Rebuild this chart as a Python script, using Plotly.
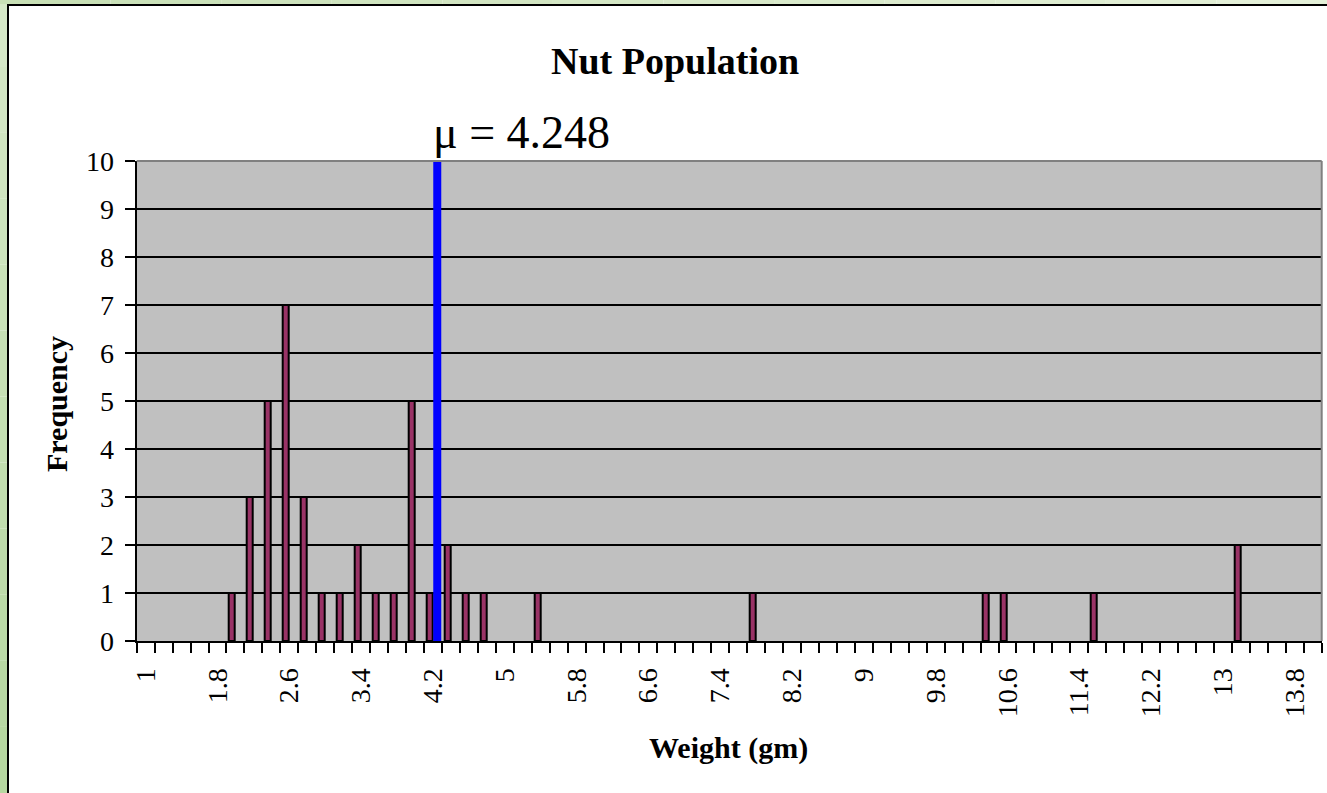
import plotly.graph_objects as go

# ---- data ----
weights = [1.0, 1.2, 1.4, 1.6, 1.8, 2.0, 2.2, 2.4, 2.6, 2.8,
           3.0, 3.2, 3.4, 3.6, 3.8, 4.0, 4.2, 4.4, 4.6, 4.8,
           5.0, 5.2, 5.4, 5.6, 5.8, 6.0, 6.2, 6.4, 6.6, 6.8,
           7.0, 7.2, 7.4, 7.6, 7.8, 8.0, 8.2, 8.4, 8.6, 8.8,
           9.0, 9.2, 9.4, 9.6, 9.8, 10.0, 10.2, 10.4, 10.6, 10.8,
           11.0, 11.2, 11.4, 11.6, 11.8, 12.0, 12.2, 12.4, 12.6, 12.8,
           13.0, 13.2, 13.4, 13.6, 13.8, 14.0]
frequency = [0, 0, 0, 0, 0, 1, 3, 5, 7, 3,
             1, 1, 2, 1, 1, 5, 1, 2, 1, 1,
             0, 0, 1, 0, 0, 0, 0, 0, 0, 0,
             0, 0, 0, 0, 1, 0, 0, 0, 0, 0,
             0, 0, 0, 0, 0, 0, 0, 1, 1, 0,
             0, 0, 0, 1, 0, 0, 0, 0, 0, 0,
             0, 2, 0, 0, 0, 0]
tick_vals = [1.0, 1.8, 2.6, 3.4, 4.2, 5.0, 5.8, 6.6, 7.4, 8.2, 9.0,
             9.8, 10.6, 11.4, 12.2, 13.0, 13.8]
tick_text = ["1", "1.8", "2.6", "3.4", "4.2", "5", "5.8", "6.6", "7.4",
             "8.2", "9", "9.8", "10.6", "11.4", "12.2", "13", "13.8"]
mu = 4.248
y_max = 10

FONT = "Times New Roman, Liberation Serif, serif"
W, H = 1327, 793
step = weights[1] - weights[0]
bar_w = step * 0.334

fig = go.Figure()
fig.add_trace(go.Bar(
    x=weights,
    y=[v if v > 0 else None for v in frequency],
    width=bar_w,
    offset=-step * 0.19 - bar_w / 2,
    marker=dict(color="#993366", line=dict(color="black", width=2)),
    showlegend=False,
))
fig.add_trace(go.Scatter(
    x=[mu, mu], y=[0, y_max], mode="lines",
    line=dict(color="#0000FF", width=8),
    showlegend=False, cliponaxis=False,
))

x0, x1 = 136.7 / W, 1321.7 / W
y0, y1 = 1 - 641 / H, 1 - 161 / H

fig.update_layout(
    width=W, height=H,
    margin=dict(l=0, r=0, t=0, b=0),
    paper_bgcolor="white",
    plot_bgcolor="#C0C0C0",
    font=dict(family=FONT, color="black"),
    bargap=0,
    xaxis=dict(
        domain=[x0, x1],
        range=[weights[0] - step / 2, weights[-1] + step / 2],
        tickmode="array", tickvals=tick_vals, ticktext=tick_text,
        tickangle=-90, ticks="", ticklabelstandoff=14,
        tickfont=dict(size=28, family=FONT),
        showgrid=False, zeroline=False,
        showline=True, linecolor="black", linewidth=2,
        minor=dict(ticks="outside", ticklen=10, tickwidth=2, tickcolor="black",
                   tick0=weights[0] - step / 2, dtick=step, showgrid=False),
        automargin=False,
    ),
    yaxis=dict(
        domain=[y0, y1],
        range=[0, y_max], dtick=1,
        ticks="outside", ticklen=10, tickwidth=2, tickcolor="black",
        ticklabelstandoff=5,
        tickfont=dict(size=28, family=FONT),
        showgrid=True, gridcolor="black", gridwidth=1.5,
        zeroline=False,
        showline=True, linecolor="black", linewidth=2,
        automargin=False,
    ),
)

shapes = []
# plot-area top and right border (grey)
shapes.append(dict(type="line", xref="x domain", yref="y domain",
                   x0=0, x1=1, y0=1, y1=1, line=dict(color="#808080", width=2), layer="above"))
shapes.append(dict(type="line", xref="x domain", yref="y domain",
                   x0=1, x1=1, y0=0, y1=1, line=dict(color="#808080", width=2), layer="above"))

# green frame (gradient approximated in segments)
n = 12
for i in range(n):
    t = i / (n - 1)
    r = int(0xD6 + (0xB6 - 0xD6) * t)
    g = int(0xE9 + (0xD7 - 0xE9) * t)
    b = int(0xC8 + (0xA0 - 0xC8) * t)
    shapes.append(dict(type="rect", xref="paper", yref="paper",
                       x0=0, x1=7 / W, y0=1 - (i + 1) / n, y1=1 - i / n,
                       fillcolor=f"rgb({r},{g},{b})", line=dict(width=0), layer="above"))
for i in range(n):
    t = i / (n - 1)
    r = int(0xC8 + (0xE4 - 0xC8) * t)
    g = int(0xE0 + (0xF0 - 0xE0) * t)
    b = int(0xB6 + (0xD8 - 0xB6) * t)
    shapes.append(dict(type="rect", xref="paper", yref="paper",
                       x0=i / n, x1=(i + 1) / n, y0=1 - 4 / H, y1=1,
                       fillcolor=f"rgb({r},{g},{b})", line=dict(width=0), layer="above"))
# black frame lines
shapes.append(dict(type="rect", xref="paper", yref="paper",
                   x0=7 / W, x1=9 / W, y0=0, y1=1 - 4 / H,
                   fillcolor="black", line=dict(width=0), layer="above"))
shapes.append(dict(type="rect", xref="paper", yref="paper",
                   x0=7 / W, x1=1, y0=1 - 6 / H, y1=1 - 4 / H,
                   fillcolor="black", line=dict(width=0), layer="above"))
fig.update_layout(shapes=shapes)

fig.add_annotation(text="<b>Nut Population</b>", xref="paper", yref="paper",
                   x=675 / W, y=1 - 61 / H, xanchor="center", yanchor="middle",
                   showarrow=False, font=dict(size=38, family=FONT))
fig.add_annotation(text="\u03bc = 4.248", xref="paper", yref="paper",
                   x=431 / W, y=1 - 132 / H, xanchor="left", yanchor="middle",
                   showarrow=False, font=dict(size=46, family=FONT))
fig.add_annotation(text="<b>Weight (gm)</b>", xref="paper", yref="paper",
                   x=729 / W, y=1 - 748 / H, xanchor="center", yanchor="middle",
                   showarrow=False, font=dict(size=30, family=FONT))
fig.add_annotation(text="<b>Frequency</b>", xref="paper", yref="paper",
                   x=56 / W, y=1 - 404 / H, xanchor="center", yanchor="middle",
                   textangle=-90, showarrow=False, font=dict(size=30, family=FONT))

fig.write_html("out.html")
